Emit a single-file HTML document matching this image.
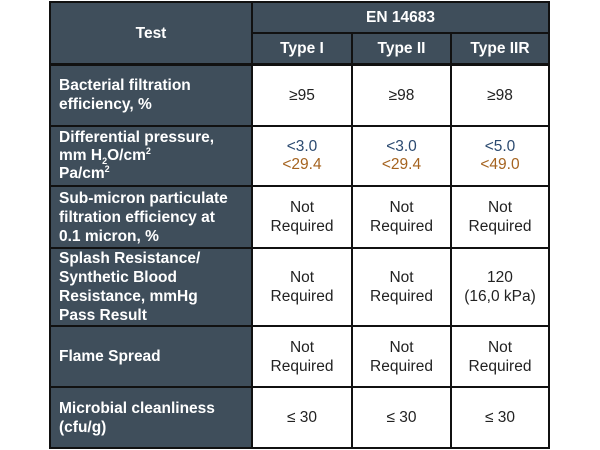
<!DOCTYPE html>
<html><head><meta charset="utf-8"><style>
body{margin:0;width:600px;height:450px;background:#fff;position:relative;overflow:hidden;font-family:"Liberation Sans",Arial,sans-serif}
.c{position:absolute;box-sizing:border-box;display:flex;align-items:center;justify-content:center;text-align:center;font-size:15.5px;line-height:19px;color:#222}
.h{background:#3f4e5b;color:#fff;font-weight:bold}
.l{justify-content:flex-start;text-align:left;padding-left:9px;font-size:15.5px;line-height:19px}
.b{color:#2b4a70}.o{color:#a5631f}
sup,sub{font-size:9px;line-height:0}
.g{position:absolute;background:#111}
</style></head><body>
<div>
<div class="c h" style="left:50px;top:2px;width:202px;height:62px">Test</div>
<div class="c h" style="left:252px;top:2px;width:297px;height:31px">EN 14683</div>
<div class="c h" style="left:252px;top:33px;width:100px;height:31px">Type I</div>
<div class="c h" style="left:352px;top:33px;width:99px;height:31px">Type II</div>
<div class="c h" style="left:451px;top:33px;width:98px;height:31px">Type IIR</div>

<div class="c h l" style="left:50px;top:64px;width:202px;height:62px"><div>Bacterial filtration<br>efficiency, %</div></div>
<div class="c" style="left:252px;top:64px;width:100px;height:62px">≥95</div>
<div class="c" style="left:352px;top:64px;width:99px;height:62px">≥98</div>
<div class="c" style="left:451px;top:64px;width:98px;height:62px">≥98</div>

<div class="c h l" style="left:50px;top:126px;width:202px;height:60px;line-height:18px"><div>Differential pressure,<br>mm H<sub>2</sub>O/cm<sup>2</sup><br>Pa/cm<sup>2</sup></div></div>
<div class="c" style="left:252px;top:126px;width:100px;height:60px;line-height:18px"><div><span class="b">&lt;3.0</span><br><span class="o">&lt;29.4</span></div></div>
<div class="c" style="left:352px;top:126px;width:99px;height:60px;line-height:18px"><div><span class="b">&lt;3.0</span><br><span class="o">&lt;29.4</span></div></div>
<div class="c" style="left:451px;top:126px;width:98px;height:60px;line-height:18px"><div><span class="b">&lt;5.0</span><br><span class="o">&lt;49.0</span></div></div>

<div class="c h l" style="left:50px;top:186px;width:202px;height:62px"><div>Sub-micron particulate<br>filtration efficiency at<br>0.1 micron, %</div></div>
<div class="c" style="left:252px;top:186px;width:100px;height:62px"><div>Not<br>Required</div></div>
<div class="c" style="left:352px;top:186px;width:99px;height:62px"><div>Not<br>Required</div></div>
<div class="c" style="left:451px;top:186px;width:98px;height:62px"><div>Not<br>Required</div></div>

<div class="c h l" style="left:50px;top:248px;width:202px;height:78px"><div>Splash Resistance/<br>Synthetic Blood<br>Resistance, mmHg<br>Pass Result</div></div>
<div class="c" style="left:252px;top:248px;width:100px;height:78px"><div>Not<br>Required</div></div>
<div class="c" style="left:352px;top:248px;width:99px;height:78px"><div>Not<br>Required</div></div>
<div class="c" style="left:451px;top:248px;width:98px;height:78px"><div>120<br>(16,0 kPa)</div></div>

<div class="c h l" style="left:50px;top:326px;width:202px;height:61px"><div>Flame Spread</div></div>
<div class="c" style="left:252px;top:326px;width:100px;height:61px"><div>Not<br>Required</div></div>
<div class="c" style="left:352px;top:326px;width:99px;height:61px"><div>Not<br>Required</div></div>
<div class="c" style="left:451px;top:326px;width:98px;height:61px"><div>Not<br>Required</div></div>

<div class="c h l" style="left:50px;top:387px;width:202px;height:61px"><div>Microbial cleanliness<br>(cfu/g)</div></div>
<div class="c" style="left:252px;top:387px;width:100px;height:61px">≤ 30</div>
<div class="c" style="left:352px;top:387px;width:99px;height:61px">≤ 30</div>
<div class="c" style="left:451px;top:387px;width:98px;height:61px">≤ 30</div>
</div>
<div>
<div class="g" style="left:49px;top:1px;width:501px;height:2px"></div>
<div class="g" style="left:252px;top:32px;width:297px;height:2px"></div>
<div class="g" style="left:49px;top:63px;width:501px;height:3px"></div>
<div class="g" style="left:49px;top:125px;width:501px;height:2px"></div>
<div class="g" style="left:49px;top:185px;width:501px;height:2px"></div>
<div class="g" style="left:49px;top:247px;width:501px;height:2px"></div>
<div class="g" style="left:49px;top:325px;width:501px;height:2px"></div>
<div class="g" style="left:49px;top:386px;width:501px;height:2px"></div>
<div class="g" style="left:49px;top:447px;width:501px;height:2px"></div>
<div class="g" style="left:49px;top:1px;width:2px;height:448px"></div>
<div class="g" style="left:251px;top:1px;width:2px;height:448px"></div>
<div class="g" style="left:351px;top:33px;width:2px;height:416px"></div>
<div class="g" style="left:450px;top:33px;width:2px;height:416px"></div>
<div class="g" style="left:548px;top:1px;width:2px;height:448px"></div>
</div>
</body></html>
